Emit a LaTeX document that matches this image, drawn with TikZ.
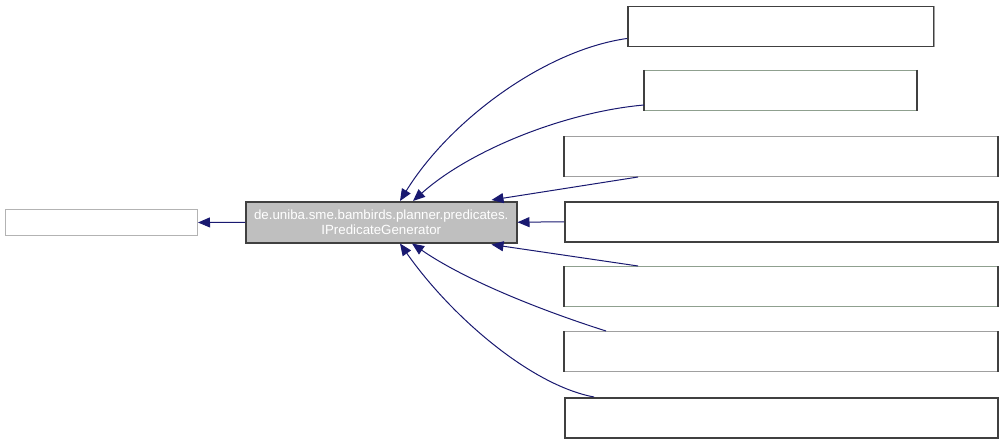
\documentclass[tikz,border=0pt]{standalone}
\usepackage{fontspec}
\setmainfont{Liberation Sans}
\usetikzlibrary{arrows.meta,calc}
\definecolor{edgeblue}{HTML}{191970}
\definecolor{boxdark}{HTML}{404040}
\definecolor{boxlight}{HTML}{A0A0A0}
\definecolor{boxgreen}{HTML}{8FA08F}
\definecolor{centerfill}{HTML}{BFBFBF}
\tikzset{
  pix/.style={x=1pt,y=-1pt},
  plainbox/.style={draw=boxlight, line width=1pt, fill=white, inner sep=0pt, anchor=north west},
  darkbox/.style={draw=boxdark, line width=1.5pt, fill=white, inner sep=0pt, anchor=north west},
  darkside/.style={draw=boxdark, line width=1.5pt},
  centerbox/.style={draw=boxdark, line width=1.5pt, fill=centerfill, inner sep=0pt,
      anchor=north west, text=white, align=center, font=\fontsize{13.3pt}{15.5pt}\selectfont},
  inherit/.style={draw=edgeblue, line width=1pt, -{Triangle[length=12pt,width=10pt]}},
}
\begin{document}
\begin{tikzpicture}[pix]
\useasboundingbox (0,0) rectangle (1001,444);
% left (parent) box
\node[plainbox, draw=boxlight!80, minimum width=192pt, minimum height=26pt] (parent) at (5,209) {};
% center class
\node[centerbox, minimum width=271pt, minimum height=41pt] (center) at (245,201)
  {de.uniba.sme.bambirds.planner.predicates.\\IPredicateGenerator};
% right (child) boxes
\node[darkbox, minimum width=306pt, minimum height=40pt] (c1) at (627,6) {};
\draw[boxlight, line width=1pt] (c1.north east) -- (c1.south east);
\node[plainbox, draw=boxgreen, minimum width=272pt, minimum height=40pt] (c2) at (644,70) {};
\draw[darkside] (c2.north west) -- (c2.south west) (c2.north east) -- (c2.south east);
\node[plainbox, minimum width=433pt, minimum height=40pt] (c3) at (564,136) {};
\draw[darkside] (c3.north west) -- (c3.south west) (c3.north east) -- (c3.south east);
\node[darkbox, minimum width=433pt, minimum height=40pt] (c4) at (564,201) {};
\node[plainbox, draw=boxgreen, minimum width=433pt, minimum height=40pt] (c5) at (564,266) {};
\draw[darkside] (c5.north west) -- (c5.south west) (c5.north east) -- (c5.south east);
\node[plainbox, minimum width=433pt, minimum height=40pt] (c6) at (564,331) {};
\draw[darkside] (c6.north west) -- (c6.south west) (c6.north east) -- (c6.south east);
\node[darkbox, minimum width=433pt, minimum height=40pt] (c7) at (564,397) {};
% connectors
\draw[inherit] (center.west) -- (parent.east);
\draw[inherit] ($(c1.south west)+(0,-9)$) .. controls (545,50) and (450,120) .. ($(center.north west)+(155,0)$);
\draw[inherit] ($(c2.south west)+(0,-6)$) .. controls (565,112) and (470,150) .. ($(center.north west)+(168,0)$);
\draw[inherit] ($(c3.south west)+(74,0)$) -- ($(center.north east)+(-26,-1)$);
\draw[inherit] (c4.west) -- (center.east);
\draw[inherit] ($(c5.north west)+(74,0)$) -- ($(center.south east)+(-26,1)$);
\draw[inherit] ($(c6.north west)+(42,0)$) .. controls (540,310) and (465,280) .. ($(center.south west)+(167,0)$);
\draw[inherit] ($(c7.north west)+(30,0)$) .. controls (530,385) and (450,315) .. ($(center.south west)+(155,0)$);
\end{tikzpicture}
\end{document}
